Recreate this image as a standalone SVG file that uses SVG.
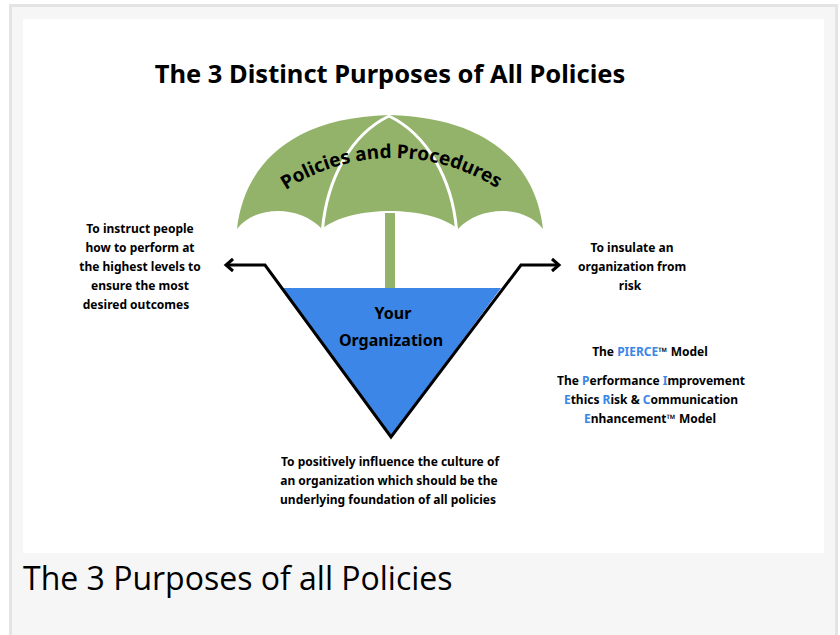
<svg xmlns="http://www.w3.org/2000/svg" width="840" height="635" viewBox="0 0 840 635">
<style>
text{font-family:"Noto Sans","Open Sans","Liberation Sans",sans-serif;fill:#000}
.b{font-weight:700;font-size:12px;text-anchor:middle}
.o{font-weight:700;font-size:16px;text-anchor:middle}
.c{fill:#3b86e6}
.l{fill:none;stroke:#000;stroke-width:3;stroke-linejoin:miter}
</style>
<defs><path id="arc" d="M283 192 C318 168 358 158 392 158 C430 158 465 168 500 190"/></defs>
<rect width="840" height="635" fill="#fff"/>
<rect x="10.500" y="5.500" width="826" height="640" fill="#f6f6f6" stroke="#e4e4e4" stroke-width="3"/>
<rect x="23" y="19" width="801" height="534" fill="#fff"/>
<text id="title" x="390" y="83" text-anchor="middle" font-size="25.500" font-weight="700">The 3 Distinct Purposes of All Policies</text>
<g id="umbrella">
<rect x="385" y="213" width="10" height="76" fill="#93b36b"/>
<path d="M237 229 C243 175 280 118 389 115 C500 118 537 175 543 229 C525 205 480 205 458 229 C430 205 350 205 322 229 C300 205 255 205 237 229 Z" fill="#93b36b"/>
<path d="M322.500 229 C327 180 350 135 389 116 C428 135 452 180 456.500 229" fill="none" stroke="#fff" stroke-width="3"/>
<text font-size="19" font-weight="700"><textPath href="#arc" startOffset="50%" text-anchor="middle">Policies and Procedures</textPath></text>
</g>
<g id="organization">
<path d="M281 288 H501 L391 437 Z" fill="#3b86e6"/>
<text class="o" x="393" y="319">Your</text>
<text class="o" x="391" y="346">Organization</text>
</g>
<g id="connectors">
<path class="l" d="M227 265 H265 L391 437 L521 265 H559"/>
<path class="l" d="M233 259 L226 265 L233 271 M552 259 L559 265 L552 271"/>
</g>
<g id="left-note">
<text class="b" x="140" y="233">To instruct people</text>
<text class="b" x="140" y="252">how to perform at</text>
<text class="b" x="140" y="271">the highest levels to</text>
<text class="b" x="140" y="290">ensure the most</text>
<text class="b" x="136" y="309">desired outcomes</text>
</g>
<g id="right-note">
<text class="b" x="632" y="252">To insulate an</text>
<text class="b" x="632" y="271">organization from</text>
<text class="b" x="630" y="290">risk</text>
</g>
<g id="pierce">
<text class="b" x="650" y="356">The <tspan class="c">PIERCE</tspan>™ Model</text>
<text class="b" x="651" y="385">The <tspan class="c">P</tspan>erformance <tspan class="c">I</tspan>mprovement</text>
<text class="b" x="651" y="404"><tspan class="c">E</tspan>thics <tspan class="c">R</tspan>isk &amp; <tspan class="c">C</tspan>ommunication</text>
<text class="b" x="650" y="423"><tspan class="c">E</tspan>nhancement™ Model</text>
</g>
<g id="bottom-note">
<text class="b" x="390" y="466">To positively influence the culture of</text>
<text class="b" x="389" y="485">an organization which should be the</text>
<text class="b" x="388" y="504">underlying foundation of all policies</text>
</g>
<text id="caption" x="23" y="590" font-size="32" style="font-family:'Open Sans',sans-serif" fill="#222">The 3 Purposes of all Policies</text>
</svg>
